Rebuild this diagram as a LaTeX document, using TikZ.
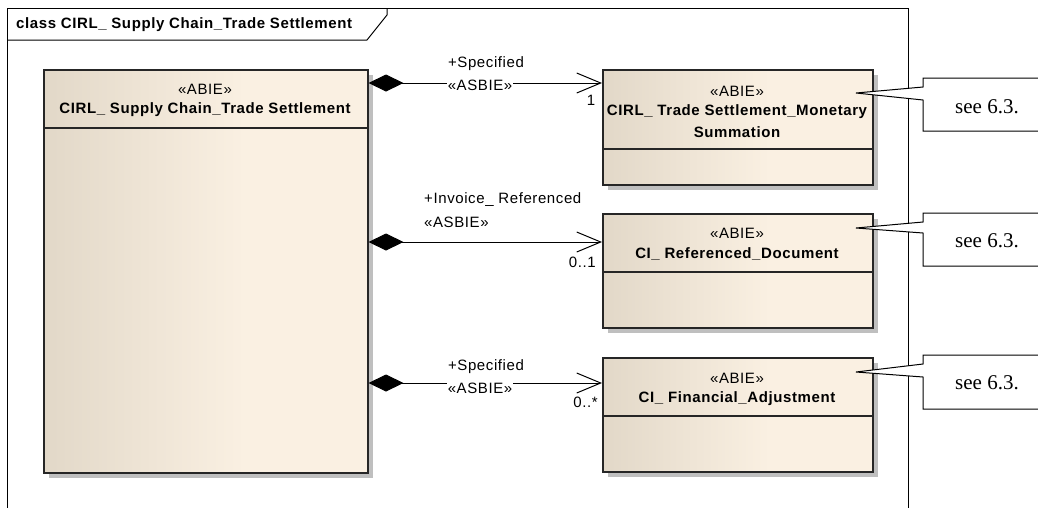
\documentclass[tikz,border=0pt]{standalone}
\usepackage{fontspec}
\setmainfont{Liberation Serif}
\newfontfamily\umlfont[LetterSpace=4]{Liberation Sans}
\usetikzlibrary{arrows.meta,shadows}
\definecolor{boxL}{HTML}{E2D8C8}
\definecolor{boxR}{HTML}{FAF0E2}
\definecolor{boxedge}{HTML}{262626}
\pgfdeclarehorizontalshading{umlshade}{100bp}{color(0bp)=(boxL); color(25bp)=(boxL); color(56bp)=(boxR); color(100bp)=(boxR)}
\tikzset{
  umlbox/.style={draw=boxedge, line width=1.5pt, shading=umlshade, inner sep=0pt, anchor=north west,
    drop shadow={shadow xshift=5pt, shadow yshift=-5pt, fill=black!25, opacity=1}},
  stereo/.style={font=\umlfont\fontsize{15}{17}\selectfont, inner sep=0pt},
  cname/.style={font=\umlfont\bfseries\fontsize{15}{17}\selectfont, inner sep=0pt, align=center},
  lbl/.style={font=\umlfont\fontsize{15}{17}\selectfont, inner sep=0pt},
  comp/.style={line width=1pt, {Diamond[length=35pt,width=17pt]}-{Straight Barb[length=24pt,width=20pt,line width=1pt]}},
  notebox/.style={draw=black, line width=1pt, fill=white},
  notetext/.style={font=\fontsize{21}{23}\selectfont, inner sep=0pt},
  sepline/.style={draw=boxedge, line width=1.5pt}
}
\begin{document}
\begin{tikzpicture}[x=1pt,y=-1pt]
\useasboundingbox (0,0) rectangle (1038,507);
\clip (0,0) rectangle (1038,507);
\fill[white] (0,0) rectangle (1038,507);
% frame
\draw[line width=1pt] (7,520) -- (7,8) -- (908,8) -- (908,520);
\draw[line width=1pt] (7,40) -- (367,40) -- (387,15) -- (387,8);
\node[cname, anchor=west] (title) at (16,25) {class CIRL\_ Supply Chain\_Trade Settlement};

% main class
\node[umlbox, minimum width=324pt, minimum height=403pt] (main) at (43,69) {};
\draw[sepline] ([yshift=-59pt]main.north west) -- ([yshift=-59pt]main.north east);
\node[stereo] (mainst) at (205,89) {«ABIE»};
\node[cname] (mainnm) at (205,110) {CIRL\_ Supply Chain\_Trade Settlement};

% box 1
\node[umlbox, minimum width=270pt, minimum height=115pt] (b1) at (602,69) {};
\draw[sepline] ([yshift=-80pt]b1.north west) -- ([yshift=-80pt]b1.north east);
\node[stereo] (b1st) at (737,91) {«ABIE»};
\node[cname] (b1nm1) at (737,112) {CIRL\_ Trade Settlement\_Monetary};
\node[cname] (b1nm2) at (737,132) {Summation};

% box 2
\node[umlbox, minimum width=270pt, minimum height=114pt] (b2) at (602,213) {};
\draw[sepline] ([yshift=-59pt]b2.north west) -- ([yshift=-59pt]b2.north east);
\node[stereo] (b2st) at (737,233) {«ABIE»};
\node[cname] (b2nm) at (737,254) {CI\_ Referenced\_Document};

% box 3
\node[umlbox, minimum width=270pt, minimum height=114pt] (b3) at (602,357) {};
\draw[sepline] ([yshift=-59pt]b3.north west) -- ([yshift=-59pt]b3.north east);
\node[stereo] (b3st) at (737,378) {«ABIE»};
\node[cname] (b3nm) at (737,399) {CI\_ Financial\_Adjustment};

% connectors
\draw[comp] ([yshift=-14pt]b1.north west -| main.east) -- ([yshift=-14pt]b1.north west);
\draw[comp] ([yshift=-29pt]b2.north west -| main.east) -- ([yshift=-29pt]b2.north west);
\draw[comp] ([yshift=-26pt]b3.north west -| main.east) -- ([yshift=-26pt]b3.north west);

\node[lbl] (r1) at (486,64) {+Specified};
\node[lbl, fill=white, inner sep=1pt] (s1) at (480,85) {«ASBIE»};
\node[lbl] (m1) at (591,100) {1};

\node[lbl, anchor=west] (r2) at (424,200) {+Invoice\_ Referenced};
\node[lbl, anchor=west] (s2) at (424,222) {«ASBIE»};
\node[lbl, anchor=east] (m2) at (596,262) {0..1};

\node[lbl] (r3) at (486,367) {+Specified};
\node[lbl, fill=white, inner sep=1pt] (s3) at (480,388) {«ASBIE»};
\node[lbl, anchor=east] (m3) at (598,402) {0..*};

% notes
\coordinate (p1) at (856,93);
\draw[notebox] (1045,78) -- (923,78) -- (923,87) -- (p1) -- (923,100) -- (923,131) -- (1045,131);
\node[notetext] (n1) at (987,107) {see 6.3.};

\coordinate (p2) at (856,228);
\draw[notebox] (1045,213) -- (923,213) -- (923,222) -- (p2) -- (923,233) -- (923,266) -- (1045,266);
\node[notetext] (n2) at (987,241) {see 6.3.};

\coordinate (p3) at (856,372);
\draw[notebox] (1045,355) -- (923,355) -- (923,364) -- (p3) -- (923,377) -- (923,409) -- (1045,409);
\node[notetext] (n3) at (987,383) {see 6.3.};
\end{tikzpicture}
\end{document}
